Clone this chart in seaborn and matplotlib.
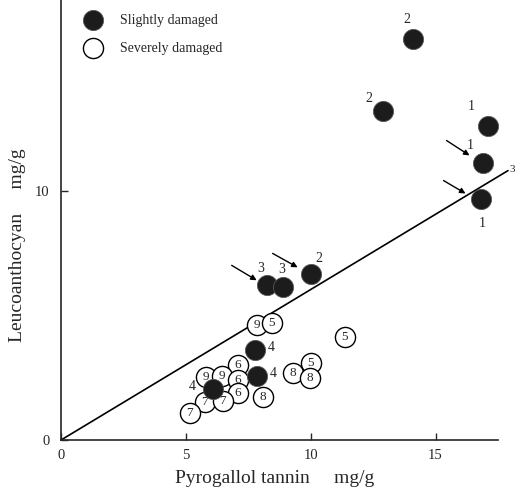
import pandas as pd
import matplotlib
matplotlib.use("Agg")
import matplotlib.pyplot as plt
import seaborn as sns

# Slightly damaged (filled circles), label = tree number
slight_x = [14.08, 12.88, 17.08, 16.88, 16.80, 10.00, 8.24, 8.88, 7.76, 7.84, 6.08]
slight_y = [16.14, 13.25, 12.65, 11.16, 9.68, 6.70, 6.22, 6.14, 3.61, 2.57, 2.05]
slight_lab = ["2", "2", "1", "1", "1", "2", "3", "3", "4", "4", "4"]

# Severely damaged (open circles), label drawn inside
severe_x = [7.84, 8.44, 11.36, 7.08, 5.80, 6.44, 7.08, 7.08, 8.08, 9.28, 10.00, 9.96, 5.76, 6.48, 5.16]
severe_y = [4.62, 4.70, 4.14, 3.01, 2.53, 2.57, 2.41, 1.89, 1.73, 2.69, 3.09, 2.49, 1.53, 1.57, 1.08]
severe_lab = ["9", "5", "5", "6", "9", "9", "6", "6", "8", "8", "5", "8", "7", "7", "7"]

# reference line y = 0.6 x
line_x = [0, 17.9]
line_y = [0, 10.84]

x_ticks = [0, 5, 10, 15]
y_ticks = [0, 10]

df_slight = pd.DataFrame({"x": slight_x, "y": slight_y, "lab": slight_lab})
df_severe = pd.DataFrame({"x": severe_x, "y": severe_y, "lab": severe_lab})

sns.set_style("ticks")
plt.rcParams["font.family"] = ["Liberation Serif", "DejaVu Serif"]

fig = plt.figure(figsize=(5.15, 4.88), dpi=100)
ax = fig.add_axes([0.118, 0.098, 0.849, 0.902])

sns.lineplot(x=line_x, y=line_y, ax=ax, color="black", linewidth=1.2)
for ln in ax.lines:
    ln.set_clip_on(False)

sns.scatterplot(data=df_severe, x="x", y="y", ax=ax, s=210, facecolor="white",
                edgecolor="black", linewidth=1.0, zorder=3, label="Severely damaged")
for _, r in df_severe.iterrows():
    ax.text(r["x"], r["y"], r["lab"], ha="center", va="center", fontsize=9.5, zorder=4)

sns.scatterplot(data=df_slight, x="x", y="y", ax=ax, s=210, color="#1c1c1c",
                edgecolor="#555555", linewidth=0.6, zorder=5, label="Slightly damaged")

# label offsets (points) for the filled markers
offsets = [(-4, 14), (-10, 9), (-12, 14), (-9, 12), (1, -17), (6, 11),
           (-4, 12), (-1, 13), (12, 2), (12, 2), (-15, 2)]
for (_, r), off in zip(df_slight.iterrows(), offsets):
    ax.annotate(r["lab"], (r["x"], r["y"]), xytext=off, textcoords="offset points",
                ha="center", va="center", fontsize=10, zorder=6)

ax.annotate("3", (line_x[1], line_y[1]), xytext=(1, 1), textcoords="offset points",
            ha="left", va="center", fontsize=8, annotation_clip=False)

# arrows pointing at selected trees
arrows = [((6.84, 7.03), (7.84, 6.43)), ((8.48, 7.51), (9.48, 6.95)),
          ((15.44, 12.05), (16.36, 11.45)), ((15.32, 10.44), (16.2, 9.92))]
for start, end in arrows:
    ax.annotate("", xy=end, xytext=start,
                arrowprops=dict(arrowstyle="-|>", color="black", lw=1.0,
                                mutation_scale=8, shrinkA=0, shrinkB=0))

ax.set_xlim(0, 17.5)
ax.set_ylim(0, 17.7)
ax.set_xticks(x_ticks)
ax.set_yticks(y_ticks)
ax.tick_params(direction="in", length=5, width=1, labelsize=10.5)
ax.tick_params(axis="x", pad=6)
ax.tick_params(axis="y", pad=8)
sns.despine(ax=ax)
ax.spines["left"].set_linewidth(1.2)
ax.spines["bottom"].set_linewidth(1.2)

ax.set_xlabel("Pyrogallol tannin     mg/g", fontsize=14)
ax.set_ylabel("Leucoanthocyan     mg/g", fontsize=14)
ax.xaxis.set_label_coords(0.49, -0.068)
ax.yaxis.set_label_coords(-0.08, 0.443)

handles, labels = ax.get_legend_handles_labels()
order = [labels.index("Slightly damaged"), labels.index("Severely damaged")]
leg = ax.legend([handles[i] for i in order], [labels[i] for i in order],
                loc="upper left", bbox_to_anchor=(0.02, 0.99), frameon=False,
                fontsize=10, markerscale=1.0, handletextpad=0.9, labelspacing=1.05,
                borderaxespad=0.3)

fig.savefig("out.png", dpi=100)
